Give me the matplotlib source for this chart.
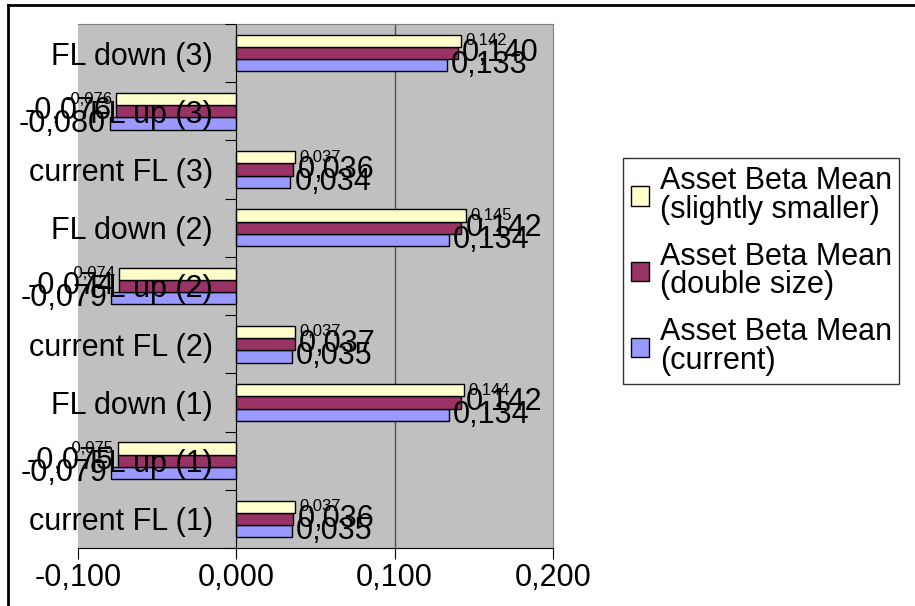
import matplotlib
matplotlib.use('Agg')
import numpy as np
from matplotlib import pyplot as plt
from matplotlib.patches import Patch
from matplotlib.lines import Line2D

plt.rcParams['font.family'] = ['Liberation Sans', 'DejaVu Sans']

# data (bottom to top, as in the chart)
categories = ['current FL (1)', 'FL up (1)', 'FL down (1)',
              'current FL (2)', 'FL up (2)', 'FL down (2)',
              'current FL (3)', 'FL up (3)', 'FL down (3)']
beta_current = [0.035, -0.079, 0.134, 0.035, -0.079, 0.134, 0.034, -0.080, 0.133]
beta_double = [0.036, -0.075, 0.142, 0.037, -0.074, 0.142, 0.036, -0.076, 0.140]
beta_smaller = [0.037, -0.075, 0.144, 0.037, -0.074, 0.145, 0.037, -0.076, 0.142]
series_names = ['Asset Beta Mean\n(current)', 'Asset Beta Mean\n(double size)',
                'Asset Beta Mean\n(slightly smaller)']
x_ticks = [-0.1, 0.0, 0.1, 0.2]

fig = plt.figure(figsize=(9.15, 6.06), dpi=100)
ax = fig.add_axes([78/915, 1-548/606, (553-78)/915, (548-24)/606])
ax.set_facecolor('#C0C0C0')

y = np.arange(len(categories))
h = 0.21
colors = ['#9999FF', '#993366', '#FFFFCC']
label_sizes = [22, 22, 12]
fmt = lambda v: f"{v:.3f}".replace('.', ',')
for i, (vals, c) in enumerate(zip([beta_current, beta_double, beta_smaller], colors)):
    b = ax.barh(y + (i - 1) * h, vals, height=h, color=c, edgecolor='black', linewidth=1, zorder=3)
    ax.bar_label(b, labels=[fmt(v) for v in vals], padding=3, fontsize=label_sizes[i], zorder=7)

ax.set_xlim(-0.1, 0.2)
ax.set_ylim(-0.5, len(categories) - 0.5)
ax.axvline(0.1, color='#505050', linewidth=1, zorder=1)

for s in ['top', 'right']:
    ax.spines[s].set_color('#808080')
ax.spines['left'].set_position(('data', 0))
ax.spines['left'].set_color('black')
ax.spines['left'].set_zorder(4)
ax.spines['bottom'].set_color('black')

ax.set_xticks(x_ticks)
ax.set_xticklabels([fmt(v) for v in x_ticks], fontsize=22)
ax.tick_params(axis='x', length=8, direction='out', pad=3)

ax.set_yticks(np.arange(len(categories) + 1) - 0.5)
ax.set_yticklabels([])
ax.tick_params(axis='y', which='major', length=8, direction='out')
ax.set_yticks(y, minor=True)
ax.set_yticklabels(categories, minor=True, fontsize=22)
ax.tick_params(axis='y', which='minor', length=0, pad=17)
ax.yaxis.set_zorder(6)

# legend
handles = [Patch(facecolor=colors[i], edgecolor='black', label=series_names[i]) for i in [2, 1, 0]]
leg = fig.legend(handles=handles, loc='center left', bbox_to_anchor=(623/915, 1-271/606),
                 fontsize=22, frameon=True, fancybox=False, edgecolor='black',
                 handlelength=0.6, handleheight=0.6, handletextpad=0.35,
                 labelspacing=0.55, borderpad=0.25, borderaxespad=0)
leg.get_frame().set_linewidth(1)
for t in leg.get_texts():
    t.set_linespacing(0.95)

# outer chart border (top and left visible)
fig.add_artist(Line2D([8/915, 8/915], [0, 1-5/606], color='black', linewidth=2))
fig.add_artist(Line2D([8/915, 1], [1-5/606, 1-5/606], color='black', linewidth=2))

fig.savefig('out.png', dpi=100)
